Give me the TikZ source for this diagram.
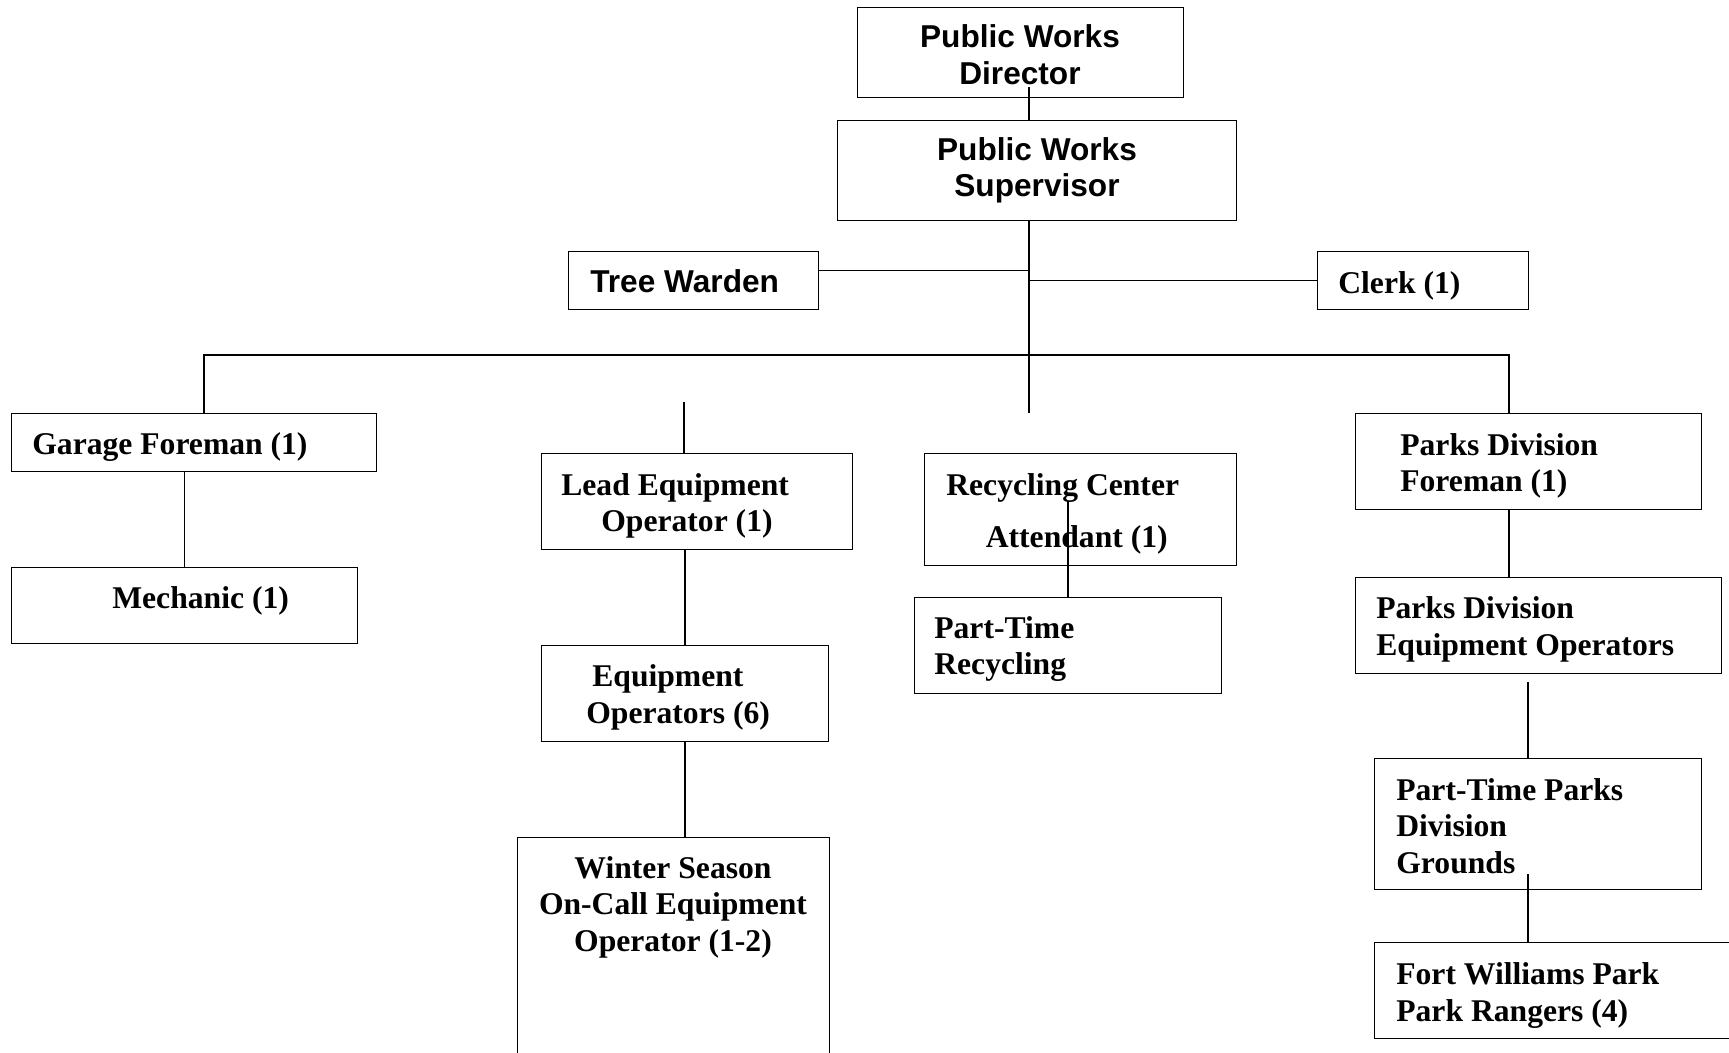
\documentclass[tikz,border=0pt]{standalone}
\usepackage{fontspec}
\setmainfont{Liberation Serif}
\newfontfamily\arialfont{Liberation Sans}
\usetikzlibrary{calc}

\tikzset{
  box/.style={draw, line width=0.8pt, anchor=north west, inner sep=0pt},
  role/.style={anchor=base west, inner sep=0pt, align=left, font=\bfseries\fontsize{18}{20.8}\selectfont},
  title/.style={role, font=\arialfont\bfseries\fontsize{18}{20.8}\selectfont},
  link/.style={line width=0.8pt},
}

\begin{document}
\begin{tikzpicture}[x=0.02cm, y=-0.02cm]
\clip (0,0) rectangle (1729,1053);

% boxes
\node[box, minimum width=6.52cm, minimum height=1.8cm] (dir) at (857,7) {};
\node[box, minimum width=7.98cm, minimum height=2.0cm] (sup) at (837,120) {};
\node[box, minimum width=5.0cm, minimum height=1.16cm] (tw) at (568,251) {};
\node[box, minimum width=4.22cm, minimum height=1.16cm] (clerk) at (1317,251) {};
\node[box, minimum width=7.3cm, minimum height=1.16cm] (gf) at (11,413) {};
\node[box, minimum width=6.92cm, minimum height=1.52cm] (mech) at (11,567) {};
\node[box, minimum width=6.22cm, minimum height=1.92cm] (lead) at (541,453) {};
\node[box, minimum width=5.74cm, minimum height=1.92cm] (eqops) at (541,645) {};
\node[box, minimum width=6.24cm, minimum height=4.8cm] (winter) at (517,837) {};
\node[box, minimum width=6.24cm, minimum height=2.24cm] (rc) at (924,453) {};
\node[box, minimum width=6.14cm, minimum height=1.92cm] (ptrec) at (914,597) {};
\node[box, minimum width=6.92cm, minimum height=1.92cm] (pf) at (1355,413) {};
\node[box, minimum width=7.32cm, minimum height=1.92cm] (pe) at (1355,577) {};
\node[box, minimum width=6.54cm, minimum height=2.62cm] (ptp) at (1374,758) {};
\node[box, minimum width=7.72cm, minimum height=1.92cm] (fw) at (1374,942) {};

% texts (base = last line)
\node[title, anchor=base, align=center] (dirtxt) at (1020,84.5) {Public Works\\Director};
\node[title, anchor=base, align=center] (suptxt) at (1037,197) {Public Works\\Supervisor};
\node[title] (twtxt) at (590,293) {Tree Warden};
\node[role] (clerktxt) at (1338,293.5) {Clerk (1)};
\node[role] (gftxt) at (32,454.5) {Garage Foreman (1)};
\node[role] (mechtxt) at (112,608.5) {Mechanic (1)};
\node[role] (leadtxt) at (561,532) {Lead Equipment\\\hspace*{0.8cm}Operator (1)};
\node[role] (eqopstxt) at (586,723.5) {\hspace*{0.12cm}Equipment\\Operators (6)};
\node[role, anchor=base, align=center] (wintertxt) at (673,951.5) {Winter Season\\On-Call Equipment\\Operator (1-2)};
\node[role] (rctxt) at (946,548) {Recycling Center\\[0.32cm]\hspace*{0.79cm}Attendant (1)};
\node[role] (ptrectxt) at (934,675) {Part-Time\\Recycling};
\node[role] (pftxt) at (1400,492) {Parks Division\\Foreman (1)};
\node[role] (petxt) at (1376,655.5) {Parks Division\\Equipment Operators};
\node[role] (ptptxt) at (1396,873.5) {Part-Time Parks\\Division\\Grounds};
\node[role] (fwtxt) at (1396,1021.5) {Fort Williams Park\\Park Rangers (4)};

% connectors
\coordinate (spine) at (1029,0);
\coordinate (spineend) at (1029,413);
\coordinate (busL) at (204,355);
\coordinate (busR) at (1509,355);
\coordinate (leadtop) at (684,402);
\coordinate (pline) at (1528,682);

\draw[link] ($(spine |- dir.south)+(0,-11)$) -- (spine |- sup.north);
\draw[link] (spine |- sup.south) -- (spineend);
\draw[link] ($(tw.east)+(0,-10)$) coordinate (twj) -- (spine |- twj);
\draw[link] (spine |- clerk.west) -- (clerk.west);
\draw[link] (busL |- gf.north) -- (busL) -- (busR) -- (busR |- pf.north);
\draw[link] (mech.north |- gf.south) -- (mech.north);
\draw[link] (leadtop) -- (leadtop |- lead.north);
\draw[link] (eqops.north |- lead.south) -- (eqops.north);
\draw[link] (eqops.south) -- (eqops.south |- winter.north);
\draw[link] ($(ptrec.north |- rc.south)+(0,-65)$) -- (ptrec.north);
\draw[link] (busR |- pf.south) -- (busR |- pe.north);
\draw[link] (pline) -- (pline |- ptp.north);
\draw[link] ($(pline |- ptp.south)+(0,-16)$) -- (pline |- fw.north);
\end{tikzpicture}
\end{document}
